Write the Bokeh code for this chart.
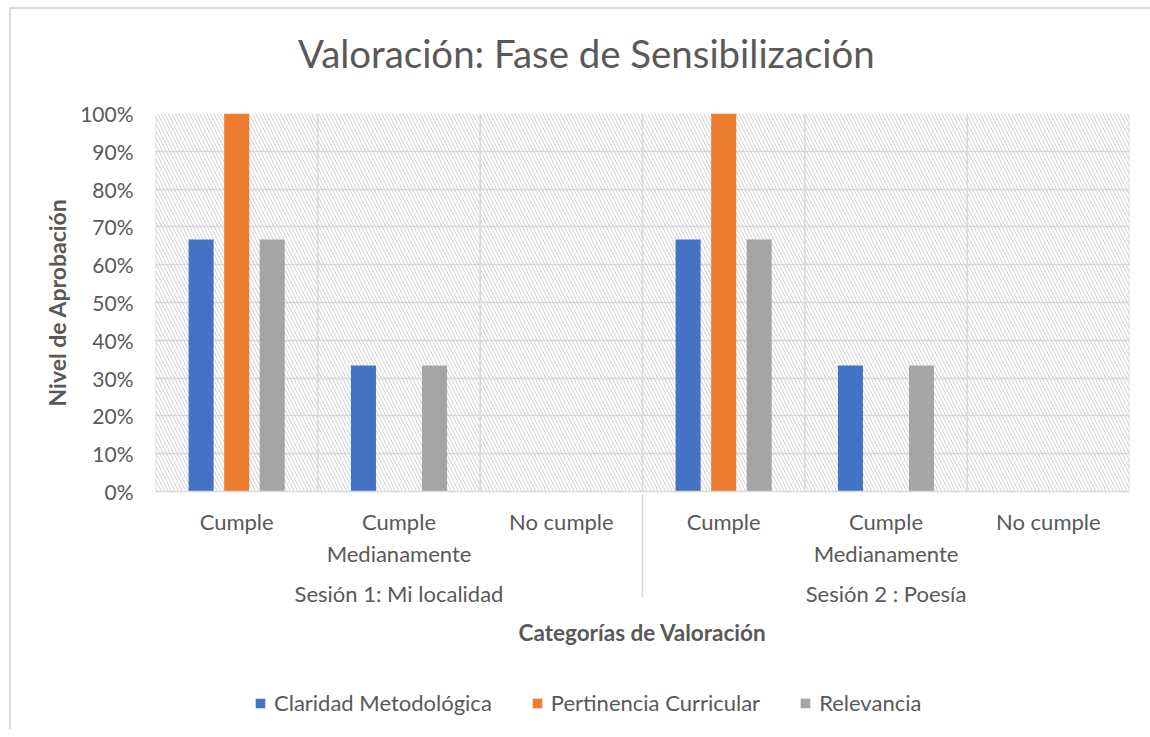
from bokeh.plotting import figure
from bokeh.layouts import column
from bokeh.models import (ColumnDataSource, FactorRange, NumeralTickFormatter, Legend,
                          LegendItem, Span, BoxAnnotation, FixedTicker, Div)
from bokeh.transform import dodge
from bokeh.embed import file_html
from bokeh.resources import INLINE

title_text = "Valoración: Fase de Sensibilización"
sessions = ["Sesión 1: Mi localidad", "Sesión 2 : Poesía"]
categories = ["Cumple", "Cumple\nMedianamente", "No cumple"]
claridad = [0.6667, 0.3333, 0.0, 0.6667, 0.3333, 0.0]
pertinencia = [1.0, 0.0, 0.0, 1.0, 0.0, 0.0]
relevancia = [0.6667, 0.3333, 0.0, 0.6667, 0.3333, 0.0]
series_names = ["Claridad Metodológica", "Pertinencia Curricular", "Relevancia"]
colors = ["#4472C4", "#ED7D31", "#A5A5A5"]
y_ticks = [i / 10 for i in range(11)]

factors = [(s, c) for s in sessions for c in categories]
src = ColumnDataSource(dict(x=factors, a=claridad, b=pertinencia, c=relevancia))

FONT = "Lato"
TXT = "#595959"
GRID = "#d9d9d9"

title_div = Div(text=title_text, width=1139, height=89, margin=0,
                styles={"font-family": FONT, "font-size": "38.4px", "color": TXT,
                        "line-height": "1", "padding-top": "25px", "padding-left": "287px",
                        "white-space": "nowrap", "box-sizing": "border-box"})

p = figure(x_range=FactorRange(*factors, range_padding=0, factor_padding=0, group_padding=0),
           y_range=(0, 1), width=1139, height=562, output_backend="svg",
           toolbar_location=None, min_border_left=144, min_border_right=21,
           min_border_top=15, min_border_bottom=169, outline_line_color=None)

# hatched background
p.add_layout(BoxAnnotation(fill_alpha=0, line_alpha=0, hatch_pattern="\\",
                           hatch_color="#d0d0d0", hatch_scale=7, hatch_weight=1,
                           level="underlay"))

bw = 0.154
offs = [-0.219, 0.0, 0.219]
cols = ["a", "b", "c"]
renderers = []
for col, off, color in zip(cols, offs, colors):
    r = p.vbar(x=dodge("x", off, range=p.x_range), top=col, width=bw, source=src,
               fill_color=color, line_color=None)
    renderers.append(r)

# grid
p.xgrid.visible = False
p.ygrid.grid_line_color = GRID
p.ygrid.grid_line_width = 1.5
p.ygrid.ticker = FixedTicker(ticks=y_ticks)
for i in range(len(factors) + 1):
    p.add_layout(Span(location=i, dimension="height", line_color=GRID, line_width=1.5))

# y axis
p.yaxis.ticker = FixedTicker(ticks=y_ticks)
p.yaxis.formatter = NumeralTickFormatter(format="0%")
p.yaxis.axis_line_color = None
p.yaxis.major_tick_line_color = None
p.yaxis.minor_tick_line_color = None
p.yaxis.major_label_text_font = FONT
p.yaxis.major_label_text_font_size = "21px"
p.yaxis.major_label_text_color = TXT
p.yaxis.major_label_standoff = 16
p.yaxis.axis_label = "Nivel de Aprobación"
p.yaxis.axis_label_text_font = FONT
p.yaxis.axis_label_text_font_size = "23px"
p.yaxis.axis_label_text_font_style = "bold"
p.yaxis.axis_label_text_color = TXT
p.yaxis.axis_label_standoff = 6

# x axis
p.xaxis.axis_line_color = GRID
p.xaxis.axis_line_width = 1.5
p.xaxis.major_tick_line_color = None
p.xaxis.minor_tick_line_color = None
p.xaxis.major_label_text_font = FONT
p.xaxis.major_label_text_font_size = "22px"
p.xaxis.major_label_text_color = TXT
p.xaxis.major_label_standoff = 10
p.xaxis.major_label_orientation = "horizontal"
p.xaxis.group_text_font = FONT
p.xaxis.group_text_font_size = "22px"
p.xaxis.group_text_font_style = "normal"
p.xaxis.group_text_color = TXT
p.xaxis.group_label_orientation = "horizontal"
p.xaxis.separator_line_color = GRID
p.xaxis.separator_line_width = 1.5
p.xaxis.axis_label = "Categorías de Valoración"
p.xaxis.axis_label_text_font = FONT
p.xaxis.axis_label_text_font_size = "22.5px"
p.xaxis.axis_label_text_font_style = "bold"
p.xaxis.axis_label_text_color = TXT
p.xaxis.axis_label_standoff = 9

# legend strip below the chart (hidden copies of the series feed its swatches)
p2 = figure(width=1139, height=69, x_range=p.x_range, y_range=(0, 1), output_backend="svg",
            toolbar_location=None, x_axis_location=None, y_axis_location=None,
            min_border=0, outline_line_color=None)
p2.grid.visible = False
leg_renderers = []
for col, off, color in zip(cols, offs, colors):
    r = p2.vbar(x=dodge("x", off, range=p2.x_range), top=col, width=bw, source=src,
                fill_color=color, line_color=None, visible=False)
    leg_renderers.append(r)
legend = Legend(items=[LegendItem(label=n, renderers=[r]) for n, r in zip(series_names, leg_renderers)],
                orientation="horizontal", location=(99, 13), border_line_color=None,
                background_fill_alpha=0, label_text_font=FONT, label_text_font_size="22px",
                label_text_color=TXT, glyph_width=12, glyph_height=12, spacing=39,
                label_standoff=8, margin=0, padding=0, inactive_fill_alpha=0)
p2.add_layout(legend, "center")

layout = column(title_div, p, p2, spacing=0, margin=(7, 0, 0, 9),
                styles={"border-left": "2px solid #d9d9d9", "border-top": "2px solid #d9d9d9"})
open("out.html", "w").write(file_html(layout, INLINE))
